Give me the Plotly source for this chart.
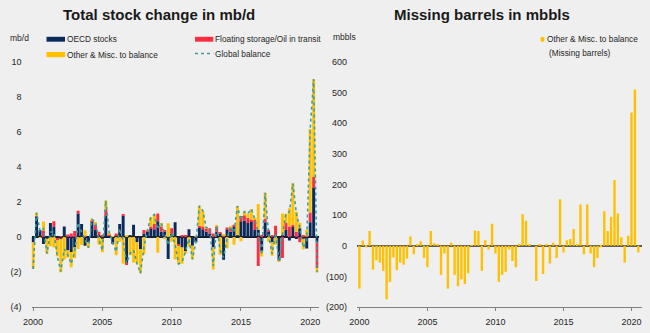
import plotly.graph_objects as go

W, H = 650, 333

# Quarterly index, 2000Q1 .. 2020Q3
quarters = [f"{2000 + i // 4}Q{i % 4 + 1}" for i in range(83)]
year_ticks = ["2000", "2005", "2010", "2015", "2020"]

# OECD commercial stock change, mb/d
oecd_stocks = [
    -0.30, 1.15, 0.40, -0.40, -0.10, 0.80, 0.60, -0.10, -0.10, 0.60,
    -0.75, -0.85, -0.60, 1.35, 0.75, -0.50, -0.30, 0.90, 0.40, 0.10,
    -0.10, 1.20, 0.10, -0.40, 0.10, 0.75, 1.20, -1.50, 0.10, 0.70,
    -0.30, -0.70, 0.20, 0.30, 0.50, 0.45, 0.90, 0.30, 0.30, -1.25,
    0.20, 0.85, -0.40, -0.60, -0.80, 0.45, -0.50, -0.30, 0.55, 0.45,
    0.30, 0.20, -0.60, 0.30, 0.20, -1.30, 0.45, 0.30, 0.60, 0.10,
    0.90, 0.95, 0.80, 0.90, 0.40, 0.40, -0.80, 0.85, 0.30, -0.30,
    0.10, -1.35, 0.10, 0.40, -0.20, 0.60, -0.10, 0.50, -0.10, -0.65,
    0.85, 2.80, -0.32,
]

# Floating storage / oil in transit, mb/d
floating_storage = [
    0.00, 0.05, 0.00, 0.35, 0.00, 0.00, 0.30, -0.10, 0.05, 0.00,
    0.15, 0.20, 0.35, 0.15, 0.00, 0.05, 0.00, 0.05, 0.30, 0.20,
    0.10, 0.35, 0.05, 0.00, 0.10, 0.00, 0.10, -0.10, 0.00, 0.00,
    0.00, 0.00, 0.20, 0.05, 0.10, 0.30, 0.45, 0.30, 0.05, 0.00,
    0.30, 0.00, -0.10, 0.10, 0.10, 0.00, 0.00, 0.00, 0.10, 0.15,
    0.20, 0.30, 0.20, 0.30, 0.05, 0.10, 0.10, 0.20, 0.10, 0.00,
    0.30, 0.30, 0.30, 0.10, 0.60, -1.65, 0.10, 0.20, 0.10, 0.10,
    0.55, 0.00, -1.20, 0.40, 0.60, 0.10, 0.30, -0.30, 0.10, 0.05,
    0.55, 0.63, -1.45,
]

# Other & misc. to balance, mb/d
other_misc = [
    -1.53, 0.19, -0.05, 0.53, -0.85, -0.53, -0.60, -0.90, -1.92, -1.29,
    -0.42, -0.88, -0.60, -0.68, -0.46, 0.33, -0.31, 0.05, 0.16, -0.44,
    -0.77, 0.53, 0.09, 0.05, -1.04, -0.27, -1.53, 0.11, -1.04, -1.45,
    -1.21, -1.37, -0.99, 0.02, 0.55, 0.53, -0.90, 0.20, -0.13, 0.79,
    -0.27, -1.29, -1.04, -0.93, -0.13, -0.55, -0.77, 0.03, 1.13, 0.90,
    0.03, 0.00, -1.26, 0.05, -1.01, 0.03, -0.64, 0.11, -0.44, 1.67,
    -0.24, 0.20, 0.24, 0.60, 0.03, 1.48, -0.31, 1.48, -0.27, -0.77,
    -0.44, -0.05, 1.24, 0.53, 1.04, 2.36, 1.15, 0.31, -0.60, 0.36,
    4.77, 5.59, -0.24,
]

# Missing barrels, mbbls per quarter
missing_barrels = [
    -140, 17, -5, 48, -78, -48, -55, -82, -175, -118,
    -38, -80, -55, -62, -42, 30, -28, 5, 15, -40,
    -70, 48, 8, 5, -95, -25, -140, 10, -95, -132,
    -110, -125, -90, 2, 50, 48, -82, 18, -12, 72,
    -25, -118, -95, -85, -12, -50, -70, 3, 103, 82,
    3, 0, -115, 5, -92, 3, -58, 10, -40, 152,
    -22, 18, 22, 55, 3, 135, -28, 135, -25, -70,
    -40, -5, 113, 48, 95, 215, 105, 28, -55, 33,
    435, 510, -22,
]

global_balance = [a + b + c for a, b, c in zip(oecd_stocks, floating_storage, other_misc)]

NAVY = "#0b2a5b"
RED = "#ff2d3f"
GOLD = "#ffc000"
TEAL = "#3f9e9a"
BG = "#efefef"
TXT = "#262626"
FONT = "Liberation Sans, Arial, sans-serif"

x_idx = list(range(len(quarters)))


def px(x):
    return x / W


def py(y):
    return 1 - y / H


fig = go.Figure()

fig.add_trace(go.Bar(x=x_idx, y=oecd_stocks, name="OECD stocks", marker_color=NAVY,
                     marker_line_width=0, width=0.85, xaxis="x", yaxis="y",
                     hovertext=quarters))
fig.add_trace(go.Bar(x=x_idx, y=floating_storage, name="Floating storage/Oil in transit",
                     marker_color=RED, marker_line_width=0, width=0.85,
                     xaxis="x", yaxis="y", hovertext=quarters))
fig.add_trace(go.Bar(x=x_idx, y=other_misc, name="Other & Misc. to balance",
                     marker_color=GOLD, marker_line_width=0, width=0.85,
                     xaxis="x", yaxis="y", hovertext=quarters))
fig.add_trace(go.Scatter(x=x_idx, y=global_balance, name="Global balance", mode="lines",
                         line=dict(color=TEAL, width=1.6, dash="dot"),
                         xaxis="x", yaxis="y", hovertext=quarters))
fig.add_trace(go.Bar(x=x_idx, y=missing_barrels,
                     name="Other & Misc. to balance (Missing barrels)",
                     marker_color=GOLD, marker_line_width=0, width=0.7,
                     xaxis="x2", yaxis="y2", hovertext=quarters))

tick_font = dict(family=FONT, size=9, color=TXT)
x_common = dict(
    tickvals=[0, 20, 40, 60, 80], ticktext=year_ticks,
    showgrid=False, zeroline=False, showline=True, linecolor="#808080", linewidth=1,
    ticks="outside", ticklen=3, tickcolor="#808080", tickfont=tick_font,
    ticklabelstandoff=3, fixedrange=True, automargin=False,
)

fig.update_layout(
    width=W, height=H, autosize=False,
    margin=dict(l=0, r=0, t=0, b=0),
    paper_bgcolor=BG, plot_bgcolor=BG,
    barmode="relative", showlegend=False,
    font=dict(family=FONT, size=9, color=TXT),
    xaxis=dict(domain=[px(31.5), px(318.5)], range=[-0.46, 82.4], anchor="y", **x_common),
    yaxis=dict(domain=[py(307), py(62)], range=[-4, 10], anchor="x",
               tickvals=[-4, -2, 0, 2, 4, 6, 8, 10],
               ticktext=["(4)", "(2)", "0", "2", "4", "6", "8", "10"],
               showgrid=False, zeroline=True, zerolinecolor="#1a1a1a", zerolinewidth=1.6,
               showline=False, ticks="", tickfont=tick_font, ticklabelstandoff=9,
               automargin=False, fixedrange=True),
    xaxis2=dict(domain=[px(357), px(641.7)], range=[-0.7, 83.0], anchor="y2", **x_common),
    yaxis2=dict(domain=[py(307), py(62)], range=[-200, 600], anchor="x2",
                tickvals=[-200, -100, 0, 100, 200, 300, 400, 500, 600],
                ticktext=["(200)", "(100)", "0", "100", "200", "300", "400", "500", "600"],
                showgrid=False, zeroline=True, zerolinecolor="#5a5a5a", zerolinewidth=1.6,
                showline=False, ticks="", tickfont=tick_font, ticklabelstandoff=9,
                automargin=False, fixedrange=True),
)

annotations = []


def label(text, x, y, xanchor="left", size=8.3, bold=False):
    annotations.append(dict(
        text=f"<b>{text}</b>" if bold else text, x=px(x), y=py(y),
        xref="paper", yref="paper", xanchor=xanchor, yanchor="middle",
        showarrow=False, borderpad=0,
        font=dict(family=FONT, size=size, color="#1a1a1a" if bold else TXT),
    ))


label("Total stock change in mb/d", 159, 15, xanchor="center", size=15, bold=True)
label("Missing barrels in mbbls", 482, 15, xanchor="center", size=15, bold=True)
label("mb/d", 9, 38, size=8.5)
label("mbbls", 332, 37, size=8.5)

# legend, left panel
label("OECD stocks", 65.5, 39)
label("Floating storage/Oil in transit", 214, 39)
label("Other & Misc. to balance", 65.5, 54.5)
label("Global balance", 214, 54)
# legend, right panel
label("Other & Misc. to balance", 545.5, 39)
label("(Missing barrels)", 547.5, 53.5)

shapes = [
    dict(type="rect", xref="paper", yref="paper", x0=px(46.5), x1=px(65), y0=py(41.7), y1=py(36.8),
         fillcolor=NAVY, line_width=0),
    dict(type="rect", xref="paper", yref="paper", x0=px(195), x1=px(213.3), y0=py(41.7), y1=py(36.8),
         fillcolor=RED, line_width=0),
    dict(type="rect", xref="paper", yref="paper", x0=px(46.5), x1=px(65), y0=py(57.2), y1=py(52.0),
         fillcolor=GOLD, line_width=0),
    dict(type="line", xref="paper", yref="paper", x0=px(195), x1=px(213.3), y0=py(53.5), y1=py(53.5),
         line=dict(color=TEAL, width=1.6, dash="dot")),
    dict(type="rect", xref="paper", yref="paper", x0=px(540.7), x1=px(544.3), y0=py(41.7), y1=py(37.0),
         fillcolor=GOLD, line_width=0),
]

fig.update_layout(annotations=annotations, shapes=shapes)

fig.write_html("out.html")
